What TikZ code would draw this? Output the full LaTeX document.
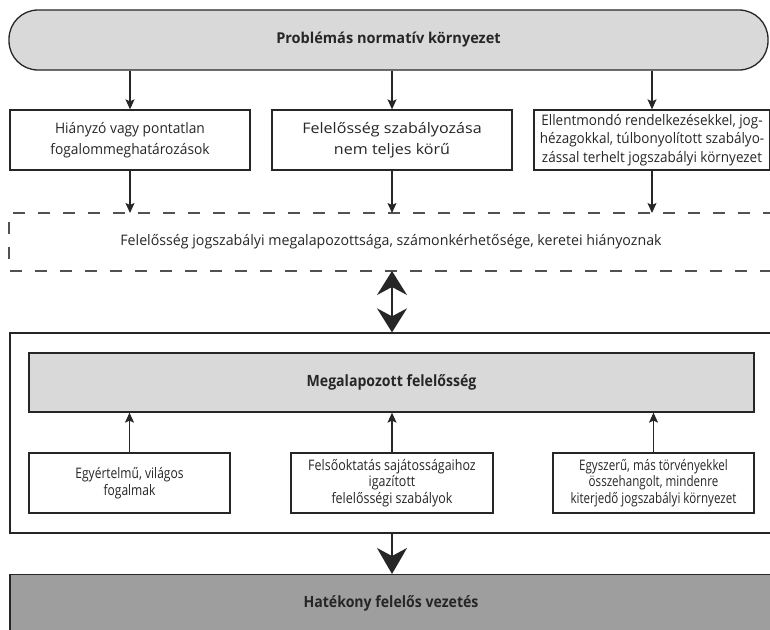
\documentclass[tikz,border=0pt]{standalone}
\usepackage{fontspec}
\setmainfont{Open Sans}
\usetikzlibrary{arrows.meta}
\definecolor{ink}{HTML}{262626}
\definecolor{lightfill}{HTML}{D9D9D9}
\definecolor{darkfill}{HTML}{9E9E9E}
\newcommand{\fsz}[3]{\fontsize{#1}{#2}\selectfont\addfontfeature{FakeStretch=#3}}
\tikzset{
  box/.style={draw=ink, line width=1.3pt, fill=white, inner sep=0pt, align=center, text=ink},
  arr/.style={draw=ink, line width=1.3pt, -{Stealth[length=10pt,width=9pt,inset=2pt]}},
  bigarr/.style={draw=ink, line width=1.5pt, -{Stealth[length=26pt,width=30pt,inset=8pt]}},
  bigdbl/.style={draw=ink, line width=1.5pt, {Stealth[length=24pt,width=30pt,inset=8pt]}-{Stealth[length=24pt,width=30pt,inset=8pt]}},
  dashline/.style={draw=ink!80, line width=1.3pt, dash pattern=on 12pt off 13pt},
}
\begin{document}
\begin{tikzpicture}[x=1pt,y=-1pt]
\useasboundingbox (0,0) rectangle (770,629);
% top
\node[box, fill=lightfill, rounded corners=29pt, minimum width=759pt, minimum height=60pt, font=\bfseries\fsz{15}{18}{0.97}] (top) at (388.5,40) {Problémás normatív környezet};
% row 1
\node[box, minimum width=240pt, minimum height=60pt, font=\fsz{14.5}{21}{0.95}] (b1) at (130,140) {Hiányzó vagy pontatlan\\fogalommeghatározások};
\node[box, minimum width=240pt, minimum height=60pt, font=\fsz{14.5}{21}{1.11}] (b2) at (392,140) {Felelősség szabályozása\\nem teljes körű};
\node[box, minimum width=236pt, minimum height=60pt, font=\fsz{14.5}{18.5}{0.93}] (b3) at (652,140) {Ellentmondó rendelkezésekkel, jog-\\hézagokkal, túlbonyolított szabályo-\\zással terhelt jogszabályi környezet};
\draw[arr] (top.south -| b1) -- (b1.north);
\draw[arr] (top.south -| b2) -- (b2.north);
\draw[arr] (top.south -| b3) -- (b3.north);
% dashed band
\coordinate (dtopR) at (775,213);
\coordinate (dtopL) at (9,213);
\coordinate (dbotL) at (9,271);
\coordinate (dbotR) at (775,271);
\draw[dashline] (dtopR) -- (dtopL) -- (dbotL) -- (dbotR);
\node[text=ink, font=\fsz{14.5}{18}{0.98}] (gap) at (391,242) {Felelősség jogszabályi megalapozottsága, számonkérhetősége, keretei hiányoznak};
\draw[arr] (b1.south) -- (b1.south |- dtopL);
\draw[arr] (b2.south) -- (b2.south |- dtopL);
\draw[arr] (b3.south) -- (b3.south |- dtopL);
% big frame
\node[box, minimum width=766pt, minimum height=200pt] (big) at (393,433) {};
\node[box, fill=lightfill, minimum width=725pt, minimum height=59pt, font=\bfseries\fsz{15.5}{18}{0.91}] (found) at (391.5,382.5) {Megalapozott felelősség};
\node[box, minimum width=201pt, minimum height=60pt, font=\fsz{14.5}{17}{0.83}] (c1) at (129.5,483) {Egyértelmű, világos\\fogalmak};
\node[box, minimum width=202pt, minimum height=60pt, font=\fsz{14.5}{16.5}{0.86}] (c2) at (392,483) {Felsőoktatás sajátosságaihoz\\igazított\\felelősségi szabályok};
\node[box, minimum width=201pt, minimum height=60pt, font=\fsz{14.5}{16.5}{0.80}] (c3) at (653.5,483) {Egyszerű, más törvényekkel\\összehangolt, mindenre\\kiterjedő jogszabályi környezet};
\draw[arr] (c1.north) -- (c1.north |- found.south);
\draw[arr] (c2.north) -- (c2.north |- found.south);
\draw[arr] (c3.north) -- (c3.north |- found.south);
\draw[bigdbl] (dbotL -| c2) -- (big.north -| c2);
% bottom
\node[box, fill=darkfill, minimum width=766pt, minimum height=70pt, anchor=north] (eff) at (393,574) {};
\node[text=ink, font=\bfseries\fsz{15.5}{18}{0.91}] (efftxt) at (391,603) {Hatékony felelős vezetés};
\draw[bigarr] (big.south -| c2) -- (eff.north -| c2);
\end{tikzpicture}
\end{document}
